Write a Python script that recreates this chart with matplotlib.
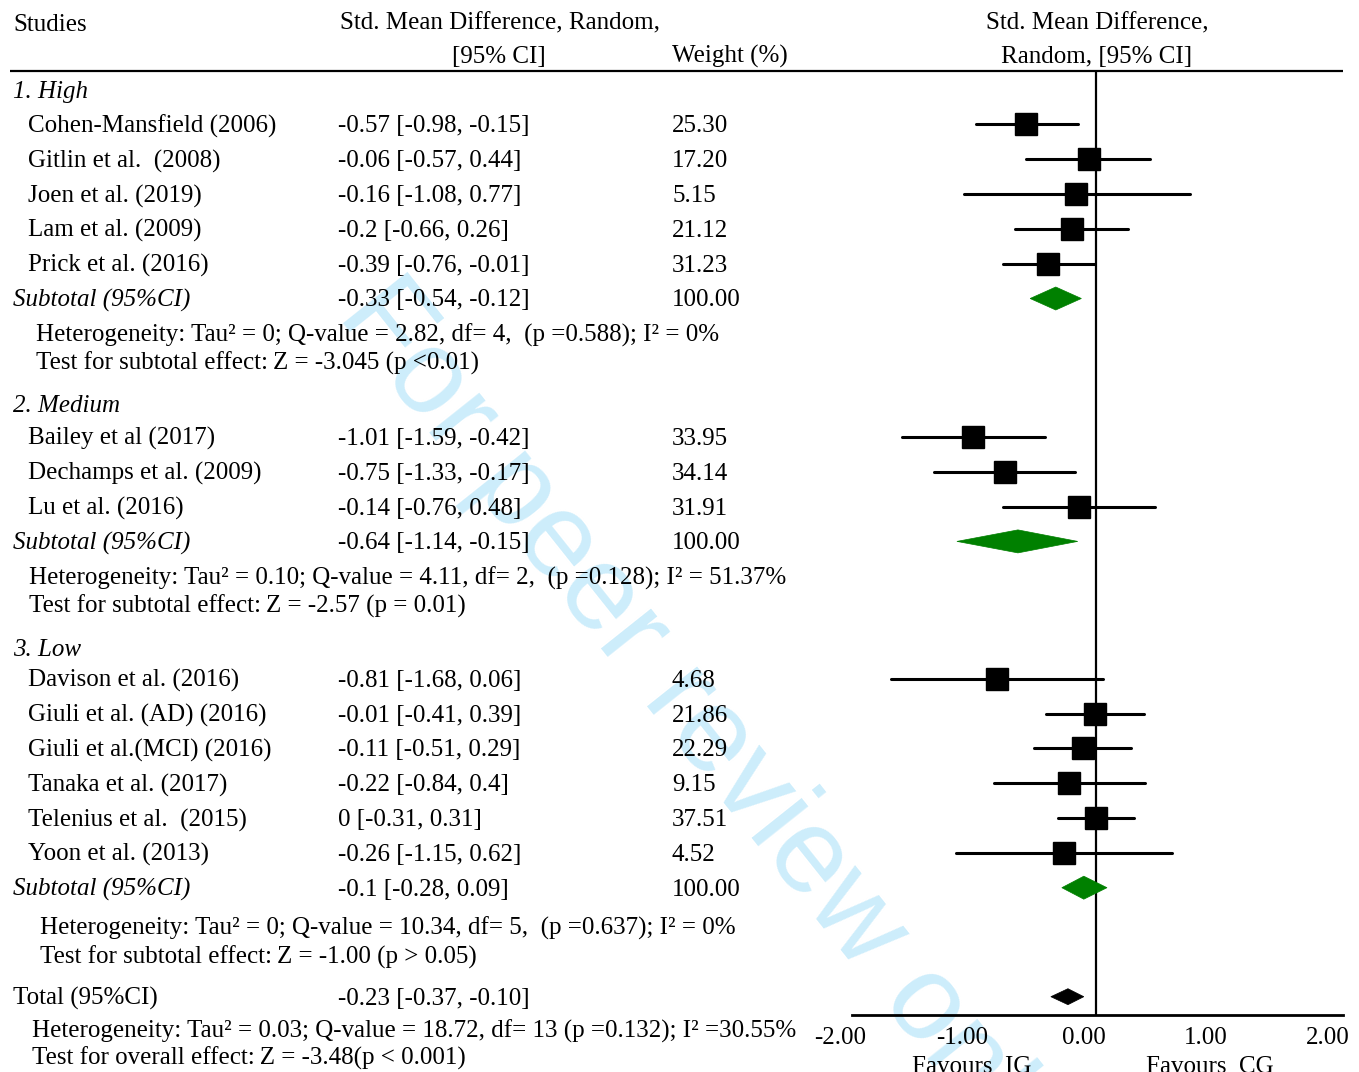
import matplotlib
matplotlib.use("Agg")
import matplotlib.pyplot as plt
from matplotlib.patches import Polygon
from matplotlib.transforms import ScaledTranslation

# ---------------- data ----------------
group_names = ["1. High", "2. Medium", "3. Low"]

high_studies = ["Cohen-Mansfield (2006)", "Gitlin et al.  (2008)", "Joen et al. (2019)",
                "Lam et al. (2009)", "Prick et al. (2016)"]
high_est = [-0.57, -0.06, -0.16, -0.2, -0.39]
high_lo = [-0.98, -0.57, -1.08, -0.66, -0.76]
high_hi = [-0.15, 0.44, 0.77, 0.26, -0.01]
high_w = [25.30, 17.20, 5.15, 21.12, 31.23]

med_studies = ["Bailey et al (2017)", "Dechamps et al. (2009)", "Lu et al. (2016)"]
med_est = [-1.01, -0.75, -0.14]
med_lo = [-1.59, -1.33, -0.76]
med_hi = [-0.42, -0.17, 0.48]
med_w = [33.95, 34.14, 31.91]

low_studies = ["Davison et al. (2016)", "Giuli et al. (AD) (2016)", "Giuli et al.(MCI) (2016)",
               "Tanaka et al. (2017)", "Telenius et al.  (2015)", "Yoon et al. (2013)"]
low_est = [-0.81, -0.01, -0.11, -0.22, 0.0, -0.26]
low_lo = [-1.68, -0.41, -0.51, -0.84, -0.31, -1.15]
low_hi = [0.06, 0.39, 0.29, 0.4, 0.31, 0.62]
low_w = [4.68, 21.86, 22.29, 9.15, 37.51, 4.52]

sub_est = [-0.33, -0.64, -0.1]
sub_lo = [-0.54, -1.14, -0.28]
sub_hi = [-0.12, -0.15, 0.09]
sub_w = [100.00, 100.00, 100.00]

het_text = [
    "Heterogeneity: Tau\u00b2 = 0; Q-value = 2.82, df= 4,  (p =0.588); I\u00b2 = 0%",
    "Heterogeneity: Tau\u00b2 = 0.10; Q-value = 4.11, df= 2,  (p =0.128); I\u00b2 = 51.37%",
    "Heterogeneity: Tau\u00b2 = 0; Q-value = 10.34, df= 5,  (p =0.637); I\u00b2 = 0%",
]
test_text = [
    "Test for subtotal effect:\u2009Z = -3.045 (p <0.01)",
    "Test for subtotal effect:\u2009Z = -2.57 (p = 0.01)",
    "Test for subtotal effect:\u2009Z = -1.00 (p > 0.05)",
]

total_est = -0.23
total_lo = -0.37
total_hi = -0.10
total_het = "Heterogeneity: Tau\u00b2 = 0.03; Q-value = 18.72, df= 13 (p =0.132); I\u00b2 =30.55%"
total_test = "Test for overall effect:\u2009Z = -3.48(p < 0.001)"

x_ticks = [-2, -1, 0, 1, 2]
x_tick_labels = ["-2.00", "-1.00", "0.00", "1.00", "2.00"]

groups = [
    (high_studies, high_est, high_lo, high_hi, high_w),
    (med_studies, med_est, med_lo, med_hi, med_w),
    (low_studies, low_est, low_lo, low_hi, low_w),
]

# ---------------- layout ----------------
W, H = 1359, 1072
FS = 18
SERIF = "Liberation Serif"
plt.rcParams["font.family"] = [SERIF, "DejaVu Serif"]

fig = plt.figure(figsize=(W / 100, H / 100), dpi=100)
tax = fig.add_axes([0, 0, 1, 1])
tax.set_xlim(0, W)
tax.set_ylim(H, 0)
tax.axis("off")

# plot axes (pixel-based y shared with text axes)
PX0, PX1, PY0, PY1 = 852, 1343, 71, 1015
ZERO_PX, UNIT_PX = 1094, 123
pax = fig.add_axes([PX0 / W, (H - PY1) / H, (PX1 - PX0) / W, (PY1 - PY0) / H])
pax.set_xlim((PX0 - ZERO_PX) / UNIT_PX, (PX1 - ZERO_PX) / UNIT_PX)
pax.set_ylim(PY1, PY0)
pax.patch.set_alpha(0)
for s in ["top", "left", "right"]:
    pax.spines[s].set_visible(False)
pax.spines["bottom"].set_linewidth(2.0)
pax.set_yticks([])
pax.set_xticks(x_ticks)
pax.set_xticklabels(x_tick_labels, fontsize=FS, family=SERIF)
pax.tick_params(axis="x", length=0, pad=9)
for lab in pax.get_xticklabels():
    lab.set_transform(lab.get_transform() + ScaledTranslation(-12 / 100, 0, fig.dpi_scale_trans))
pax.axvline(0, color="black", lw=1.6, zorder=2)

# watermark
tax.text(360, 296, "For peer review only", rotation=-51.5, rotation_mode="anchor",
         ha="left", va="center", fontsize=87, family="Liberation Sans",
         color="#cdedfb", zorder=0)

BL = 8  # baseline offset from row centre


def txt(x, y, s, **kw):
    tax.text(x, y + BL, s, fontsize=FS, ha=kw.pop("ha", "left"), va="baseline", zorder=3, **kw)


# header
tax.text(13, 31, "Studies", fontsize=FS, va="baseline")
tax.text(340, 29, "Std. Mean Difference, Random,", fontsize=FS, va="baseline")
tax.text(452, 63, "[95% CI]", fontsize=FS, va="baseline")
tax.text(672, 63, "Weight (%)", fontsize=FS, va="baseline")
tax.text(1097, 29, "Std. Mean Difference,", fontsize=FS, va="baseline", ha="center")
tax.text(1097, 63, "Random, [95% CI]", fontsize=FS, va="baseline", ha="center")
tax.plot([10, 1343], [71, 71], color="black", lw=1.6, solid_capstyle="butt")

HDR_GAP = [34.5, 33, 31]
ROW_GAP = 34.8
SUB_HET = [35.5, 35.5, 39]
HET_TEST = [28, 27.5, 29]
TEST_NEXT = [42, 43.5, 41]
HET_X = [36, 29, 40]
DIA_H = 23


def fmt(v):
    return f"{v:g}"


def diamond(est, lo, hi, y, h, color):
    pax.add_patch(Polygon([[lo, y], [est, y - h / 2], [hi, y], [est, y + h / 2]],
                          closed=True, facecolor=color, edgecolor=color, lw=0.5, zorder=4))


y = 90
for gi, (names, est, lo, hi, w) in enumerate(groups):
    txt(13, y, group_names[gi], style="italic")
    y += HDR_GAP[gi]
    for k in range(len(names)):
        txt(28, y, names[k])
        txt(338, y, f"{fmt(est[k])} [{fmt(lo[k])}, {fmt(hi[k])}]")
        txt(672, y, f"{w[k]:.2f}")
        pax.plot([lo[k], hi[k]], [y, y], color="black", lw=2.2, solid_capstyle="round", zorder=3)
        pax.plot([est[k]], [y], marker="s", ms=15.5, color="black", zorder=5)
        y += ROW_GAP
    txt(13, y, "Subtotal (95%CI)", style="italic")
    txt(338, y, f"{fmt(sub_est[gi])} [{fmt(sub_lo[gi])}, {fmt(sub_hi[gi])}]")
    txt(672, y, f"{sub_w[gi]:.2f}")
    diamond(sub_est[gi], sub_lo[gi], sub_hi[gi], y, DIA_H, "#008000")
    y += SUB_HET[gi]
    txt(HET_X[gi], y, het_text[gi])
    y += HET_TEST[gi]
    txt(HET_X[gi], y, test_text[gi])
    y += TEST_NEXT[gi]

txt(13, y, "Total (95%CI)")
txt(338, y, f"{total_est:.2f} [{total_lo:.2f}, {total_hi:.2f}]")
diamond(total_est, total_lo, total_hi, y, 16, "black")
y += 33
txt(32, y, total_het)
y += 27
txt(32, y, total_test)

tax.text(972, 1073, "Favours  IG", fontsize=FS, ha="center", va="baseline")
tax.text(1210, 1073, "Favours  CG", fontsize=FS, ha="center", va="baseline")

fig.savefig("out.png", dpi=100)
